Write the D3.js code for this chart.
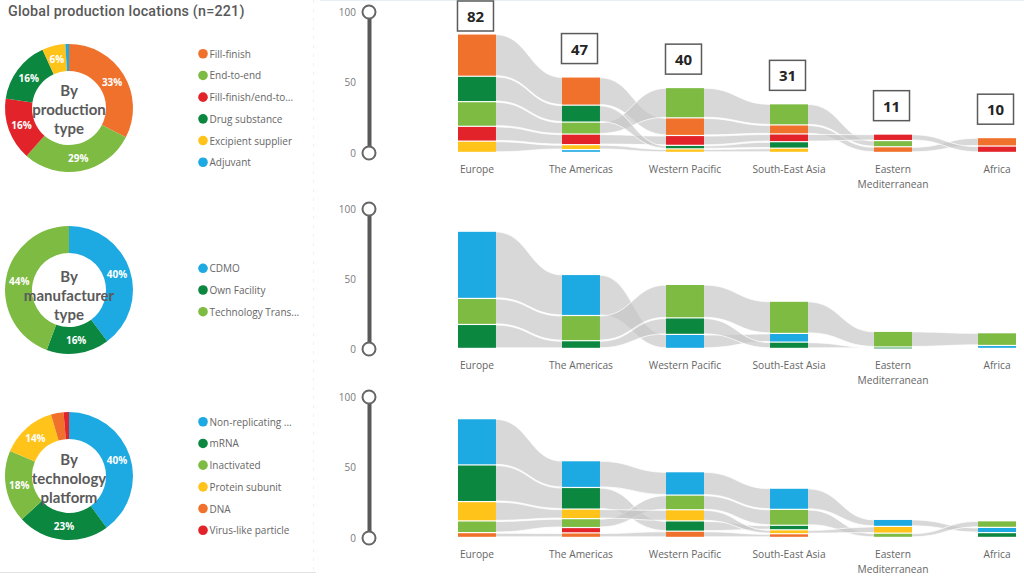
<!DOCTYPE html>
<html><head><meta charset="utf-8">
<script src="https://cdn.jsdelivr.net/npm/d3@7"></script>
<style>
body{margin:0;background:#fff;}
svg{display:block;font-family:"Open Sans","Noto Sans",sans-serif;}
</style></head><body>
<svg id="c" width="1024" height="576"></svg>
<script>
// ---------- DATA ----------
const title = "Global production locations (n=221)";
const regions = ["Europe","The Americas","Western Pacific","South-East Asia","Eastern Mediterranean","Africa"];
const regionTotals = [82,47,40,31,11,10];
const axisTicks = [0,50,100];

// Panel 1: production type
const productionTypes = ["Fill-finish","End-to-end","Fill-finish/end-to...","Drug substance","Excipient supplier","Adjuvant"];
const productionShares = [72,64,35,35,13,2];
const fillFinish      = [30,   20,  12.5, 6.4, 4,   6];
const endToEnd        = [17.5, 8.5, 21.5, 15,  4.4, 0];
const fillFinishEnd   = [10.5, 7.5, 7,    5.5, 4.6, 4.5];
const drugSubstance   = [18,   12,  2.5,  4.6, 0,   0];
const excipient       = [8,    3.5, 2.5,  3,   0,   0];
const adjuvant        = [0,    2,   0,    0,   0,   0];

// Panel 2: manufacturer type
const manufacturerTypes = ["CDMO","Own Facility","Technology Trans..."];
const manufacturerShares = [88,35,98];
const cdmo        = [48,   29.3, 10,   6.2, 0,    2.1];
const ownFacility = [17.1, 5.5,  11.8, 4.5, 1,    0];
const techTransfer= [18.6, 18,   23.9, 23,  11.2, 9.1];

// Panel 3: technology platform
const platformTypes = ["Non-replicating ...","mRNA","Inactivated","Protein subunit","DNA","Virus-like particle"];
const platformShares = [88,51,40,31,7,3];
const nonReplicating = [32.8, 19,   16.6, 15,  5,   3.7];
const mRNA           = [26,   15.3, 7.3,  3.2, 0,   3.4];
const inactivated    = [8.3,  6.3,  10.4, 11.3,3,   4.7];
const proteinSubunit = [13.7, 6.8,  7.9,  2.8, 4.8, 0];
const dna            = [3.4,  3.2,  4.4,  2.6, 0,   0];
const vlp            = [0,    3.8,  0,    0,   0,   0];

// ---------- STYLE / LAYOUT ----------
const COL = {orange:"#F0712B", lgreen:"#7DBB43", red:"#E2242A", dgreen:"#0B8740", yellow:"#FFC31A", blue:"#1DA9E1"};
const panels = [
  {center:["By","production","type"], names:productionTypes, shares:productionShares,
   series:[fillFinish,endToEnd,fillFinishEnd,drugSubstance,excipient,adjuvant],
   colors:[COL.orange,COL.lgreen,COL.red,COL.dgreen,COL.yellow,COL.blue],
   totals:regionTotals, top:12, bottom:153, cy:108, textDy:0},
  {center:["By","manufacturer","type"], names:manufacturerTypes, shares:manufacturerShares,
   series:[cdmo,ownFacility,techTransfer],
   colors:[COL.blue,COL.dgreen,COL.lgreen],
   totals:null, top:209, bottom:349, cy:290, textDy:3.5},
  {center:["By","technology","platform"], names:platformTypes, shares:platformShares,
   series:[nonReplicating,mRNA,inactivated,proteinSubunit,dna,vlp],
   colors:[COL.blue,COL.dgreen,COL.lgreen,COL.yellow,COL.orange,COL.red],
   totals:null, top:397, bottom:538, cy:476, textDy:1}
];

const svg = d3.select("#c");

// faint frame lines
svg.append("line").attr("x1",320).attr("x2",1024).attr("y1",0.5).attr("y2",0.5).attr("stroke","#e6f0f2");
svg.append("line").attr("x1",313.5).attr("x2",313.5).attr("y1",0).attr("y2",576).attr("stroke","#f0f0f0").attr("stroke-dasharray","3,6");
svg.append("line").attr("x1",0).attr("x2",316).attr("y1",572.5).attr("y2",572.5).attr("stroke","#e3e3e3");

svg.append("text").attr("x",8).attr("y",16).text(title)
  .attr("font-family","Roboto, sans-serif").attr("font-size",14.3).attr("font-weight",500)
  .attr("fill","#595959").attr("letter-spacing",0.2);

const x = d3.scaleBand().domain(regions).range([458,1016]).paddingInner(0.635).paddingOuter(0);
const bw = x.bandwidth();

panels.forEach((p,pi)=>{
  const y = d3.scaleLinear().domain([0,100]).range([p.bottom,p.top]);

  // ---- donut ----
  const cx = 69;
  const pie = d3.pie().sort(null).value(d=>d);
  const arcs = pie(p.shares);
  const arc = d3.arc().innerRadius(37).outerRadius(64);
  const lab = d3.arc().innerRadius(50.5).outerRadius(50.5);
  const sumShares = d3.sum(p.shares);
  const dg = svg.append("g").attr("transform",`translate(${cx},${p.cy})`);
  dg.selectAll("path").data(arcs).join("path").attr("d",arc).attr("fill",(d,i)=>p.colors[i]);
  dg.selectAll("text.pct").data(arcs.filter(d=>d.value/sumShares>=0.05)).join("text")
    .attr("class","pct")
    .attr("transform",d=>`translate(${lab.centroid(d)})`)
    .attr("text-anchor","middle").attr("dominant-baseline","central")
    .attr("font-size",10).attr("font-weight",700).attr("fill","#fff")
    .text(d=>Math.round(d.value/sumShares*100)+"%");
  dg.selectAll("text.ctr").data(p.center).join("text").attr("class","ctr")
    .attr("y",(d,i)=>[-18,1,20][i]+p.textDy).attr("text-anchor","middle").attr("dominant-baseline","central")
    .attr("font-family","Lato, 'Open Sans', sans-serif")
    .attr("font-size",15).attr("font-weight",700).attr("fill","#5a5a5a").text(d=>d);

  // ---- legend ----
  const step = 21.7;
  const ly0 = p.cy - (p.names.length-1)/2*step;
  const lg = svg.append("g");
  p.names.forEach((n,i)=>{
    lg.append("circle").attr("cx",203).attr("cy",ly0+i*step).attr("r",4.8).attr("fill",p.colors[i]);
    lg.append("text").attr("x",209.5).attr("y",ly0+i*step).attr("dominant-baseline","central")
      .attr("font-size",10).attr("fill","#666").text(n);
  });

  // ---- slider axis ----
  const ax = svg.append("g").attr("transform","translate(369,0)")
    .call(d3.axisLeft(y).tickValues(axisTicks).tickSize(0).tickPadding(13).tickFormat(d3.format("d")));
  ax.select(".domain").attr("stroke","#595959").attr("stroke-width",4);
  ax.selectAll(".tick text").attr("font-size",10).attr("fill","#7a7a7a").attr("font-family","'Open Sans',sans-serif");
  [0,100].forEach(v=>{
    svg.append("circle").attr("cx",369).attr("cy",y(v)).attr("r",6.5)
      .attr("fill","#fff").attr("stroke","#666").attr("stroke-width",2);
  });

  // ---- stacks (largest on top) ----
  const cols = regions.map((r,ci)=>{
    const items = p.series.map((s,si)=>({si,v:s[ci]})).filter(d=>d.v>0)
      .sort((a,b)=>b.v-a.v || a.si-b.si);
    let cum = d3.sum(items,d=>d.v);
    const total = cum;
    const pos = {};
    items.forEach(d=>{pos[d.si]={hi:cum,lo:cum-d.v}; cum-=d.v;});
    return {total,pos};
  });
  const gap = 1.2;

  // ribbons
  const rg = svg.append("g");
  p.series.forEach((s,si)=>{
    for(let ci=0; ci<regions.length-1; ci++){
      const a = cols[ci].pos[si], b = cols[ci+1].pos[si];
      if(!a || !b) continue;
      const x0 = x(regions[ci])+bw-1, x1 = x(regions[ci+1])+1, xm=(x0+x1)/2;
      const a0=y(a.hi), a1=y(a.lo)-gap, b0=y(b.hi), b1=y(b.lo)-gap;
      const d = `M${x0},${a0} C${xm},${a0} ${xm},${b0} ${x1},${b0} L${x1},${b1} C${xm},${b1} ${xm},${a1} ${x0},${a1} Z`;
      rg.append("path").attr("d",d).attr("fill","#c6c6c6").attr("fill-opacity",0.68)
        .attr("stroke","#fff").attr("stroke-width",0.9).attr("stroke-opacity",0.85);
    }
  });

  // bars
  const bg = svg.append("g");
  regions.forEach((r,ci)=>{
    Object.entries(cols[ci].pos).forEach(([si,pp])=>{
      bg.append("rect").attr("x",x(r)).attr("width",bw)
        .attr("y",y(pp.hi)).attr("height",Math.max(0.8,y(pp.lo)-y(pp.hi)-gap))
        .attr("fill",p.colors[+si]);
    });
  });

  // category labels
  const cg = svg.append("g");
  regions.forEach(r=>{
    const lines = r.length>16 ? r.split(" ") : [r];
    lines.forEach((ln,li)=>{
      cg.append("text").attr("x",x(r)+bw/2).attr("y",p.bottom+20+li*15)
        .attr("text-anchor","middle").attr("font-size",10.2).attr("fill","#666").text(ln);
    });
  });

  // totals boxes
  if(p.totals){
    const tg = svg.append("g");
    regions.forEach((r,ci)=>{
      const top = y(cols[ci].total);
      const by = Math.max(1, top-44);
      const bxc = x(r)+bw/2-1.5;
      tg.append("rect").attr("x",bxc-18).attr("y",by).attr("width",36).attr("height",30)
        .attr("fill","#fff").attr("stroke","#5a5a5a").attr("stroke-width",1.5);
      tg.append("text").attr("x",bxc).attr("y",by+15).attr("text-anchor","middle")
        .attr("dominant-baseline","central").attr("font-size",15).attr("font-weight",700)
        .attr("fill","#252525").text(p.totals[ci]);
    });
  }
});
</script>
</body></html>
